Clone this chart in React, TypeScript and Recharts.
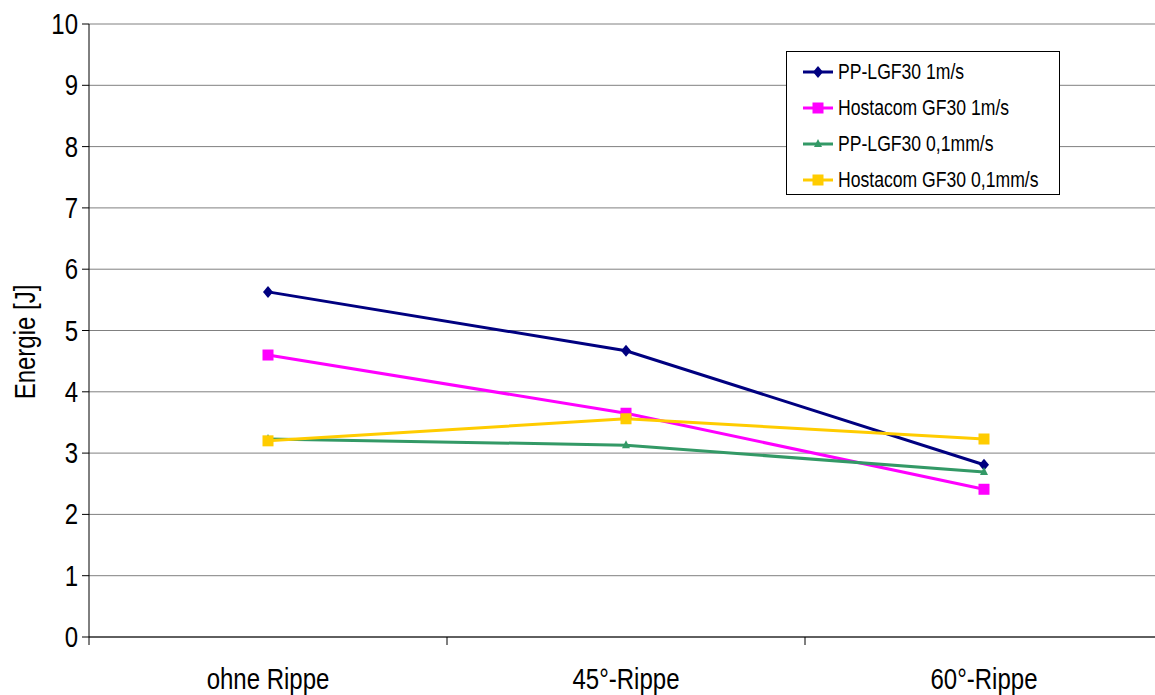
import { CartesianGrid, Line, LineChart, XAxis, YAxis } from 'recharts';

const categories = ['ohne Rippe', '45°-Rippe', '60°-Rippe'];
const ppLgf30Fast = [5.63, 4.67, 2.81];
const hostacomFast = [4.6, 3.65, 2.41];
const ppLgf30Slow = [3.23, 3.13, 2.69];
const hostacomSlow = [3.2, 3.56, 3.23];
const yTicks = [0, 1, 2, 3, 4, 5, 6, 7, 8, 9, 10];

const FONT = '"Liberation Sans", Arial, sans-serif';
const NARROW = 0.8; // fake Arial Narrow by squeezing horizontally
const CHART_W = 1170;
const CHART_H = 695;
const Y_AXIS_W = 89;
const MARGIN = { top: 24, right: 7, left: 0, bottom: 0 };
const HALF_BAND = (CHART_W - Y_AXIS_W - MARGIN.right) / categories.length / 2;

const series = [
  { key: 'a', name: 'PP-LGF30 1m/s', color: '#000080', shape: 'diamond', values: ppLgf30Fast },
  { key: 'b', name: 'Hostacom GF30 1m/s', color: '#FF00FF', shape: 'square', values: hostacomFast },
  { key: 'c', name: 'PP-LGF30 0,1mm/s', color: '#339966', shape: 'triangle', values: ppLgf30Slow },
  { key: 'd', name: 'Hostacom GF30 0,1mm/s', color: '#FFCC00', shape: 'square', values: hostacomSlow },
];

const data = categories.map((cat, i) => {
  const row: Record<string, string | number> = { cat };
  for (const s of series) row[s.key] = s.values[i];
  return row;
});

function NarrowText({ x, y, anchor, size, rotate = 0, children }: any) {
  return (
    <text
      transform={`translate(${x} ${y}) rotate(${rotate}) scale(${NARROW} 1)`}
      textAnchor={anchor}
      fontFamily={FONT}
      fontSize={size}
      fill="#000"
    >
      {children}
    </text>
  );
}

// Excel style markers
function Marker({ cx, cy, shape, color }: { cx: number; cy: number; shape: string; color: string }) {
  if (shape === 'diamond') {
    return <polygon points={`${cx},${cy - 6} ${cx + 5},${cy} ${cx},${cy + 6} ${cx - 5},${cy}`} fill={color} />;
  }
  if (shape === 'triangle') {
    return <polygon points={`${cx},${cy - 5} ${cx + 4},${cy + 3} ${cx - 4},${cy + 3}`} fill={color} />;
  }
  return <rect x={cx - 5.5} y={cy - 5.5} width={11} height={11} fill={color} />;
}

// category labels centred in the band, tick marks on the band edges
function CategoryTick(props: any) {
  const { x, y, payload } = props;
  return (
    <g>
      <line x1={x - HALF_BAND} y1={y - 8} x2={x - HALF_BAND} y2={y} stroke="#000" />
      <NarrowText x={x} y={y + 44} anchor="middle" size={30}>
        {payload.value}
      </NarrowText>
    </g>
  );
}

function ValueTick(props: any) {
  const { x, y, payload } = props;
  return (
    <NarrowText x={x + 2} y={y + 10} anchor="end" size={30}>
      {payload.value}
    </NarrowText>
  );
}

function LegendBox() {
  return (
    <div
      style={{
        position: 'absolute',
        left: 786,
        top: 51,
        width: 274,
        height: 144,
        border: '1px solid #000',
        background: '#fff',
        boxSizing: 'border-box',
        paddingTop: 2,
      }}
    >
      {series.map((s) => (
        <div key={s.key} style={{ display: 'flex', alignItems: 'center', height: 36 }}>
          <svg width={50} height={20} style={{ flexShrink: 0 }}>
            <line x1={16} y1={10} x2={46} y2={10} stroke={s.color} strokeWidth={3} />
            <Marker cx={31} cy={10} shape={s.shape} color={s.color} />
          </svg>
          <span
            style={{
              fontFamily: FONT,
              fontSize: 22,
              whiteSpace: 'nowrap',
              display: 'inline-block',
              transform: `scaleX(${NARROW})`,
              transformOrigin: 'left center',
              marginLeft: 1,
            }}
          >
            {s.name}
          </span>
        </div>
      ))}
    </div>
  );
}

export default function App() {
  return (
    <div style={{ position: 'absolute', left: 0, top: 0, width: 1155, height: 695, overflow: 'hidden', background: '#fff' }}>
      <LineChart width={CHART_W} height={CHART_H} data={data} margin={MARGIN}>
        <CartesianGrid vertical={false} stroke="#808080" />
        <XAxis
          dataKey="cat"
          height={58}
          padding={{ left: HALF_BAND, right: HALF_BAND }}
          tickLine={false}
          axisLine={{ stroke: '#000' }}
          tick={<CategoryTick />}
          interval={0}
        />
        <YAxis
          width={Y_AXIS_W}
          domain={[0, 10]}
          ticks={yTicks}
          interval={0}
          tickSize={7}
          tickMargin={6}
          axisLine={{ stroke: '#000' }}
          tickLine={{ stroke: '#000' }}
          tick={<ValueTick />}
          label={{
            value: 'Energie [J]',
            content: () => (
              <NarrowText x={35} y={342} anchor="middle" size={30} rotate={-90}>
                Energie [J]
              </NarrowText>
            ),
          }}
        />
        {series.map((s) => (
          <Line
            key={s.key}
            type="linear"
            dataKey={s.key}
            name={s.name}
            stroke={s.color}
            strokeWidth={3}
            dot={(p: any) => <Marker key={`${s.key}-${p.index}`} cx={p.cx} cy={p.cy} shape={s.shape} color={s.color} />}
            activeDot={false}
            isAnimationActive={false}
          />
        ))}
      </LineChart>
      <LegendBox />
    </div>
  );
}
